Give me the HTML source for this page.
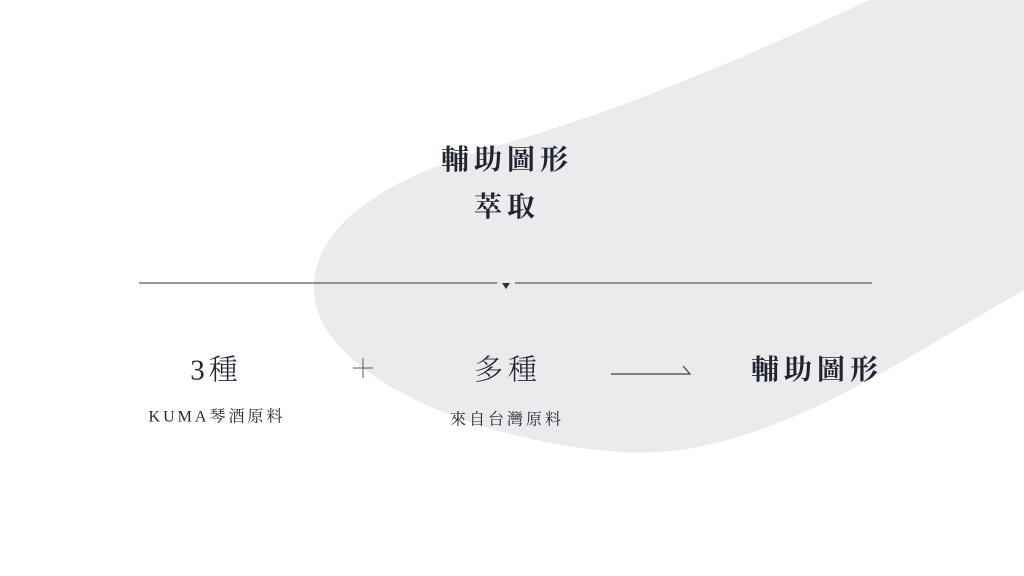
<!DOCTYPE html>
<html><head><meta charset="utf-8"><style>
body{margin:0;width:1024px;height:576px;background:#fff;position:relative;overflow:hidden;font-family:"Liberation Serif","Noto Serif CJK SC",serif;color:#1f2433}
.t{position:absolute;transform:translate(-50%,-50%);white-space:nowrap}
</style></head><body>
<svg width="1024" height="576" style="position:absolute;left:0;top:0">
<path d="M870,0 C770,45 640,105 500,145 C370,182 305,235 315,300 C325,370 460,440 620,452 C760,462 900,360 1024,290 L1024,0 Z" fill="#ebebee"/>
<line x1="139" y1="283" x2="497" y2="283" stroke="#555a66" stroke-width="1.3"/>
<line x1="515" y1="283" x2="872" y2="283" stroke="#555a66" stroke-width="1.3"/>
<polygon points="502,283 510,283 506,289" fill="#2a2f3b"/>
<polyline points="611,374 690,374 683,366" fill="none" stroke="#3a3f4b" stroke-width="1.2"/>
<line x1="363" y1="358" x2="363" y2="378" stroke="#555a66" stroke-width="1"/>
<line x1="353" y1="368" x2="373" y2="368" stroke="#555a66" stroke-width="1"/>
</svg>
<div class="t" style="left:507px;top:158px;font-size:28px;font-weight:bold;letter-spacing:5px">輔助圖形</div>
<div class="t" style="left:507px;top:205px;font-size:28px;font-weight:bold;letter-spacing:5px">萃取</div>
<div class="t" style="left:216px;top:368px;font-size:29px;font-weight:300;letter-spacing:4px">3種</div>
<div class="t" style="left:508px;top:368px;font-size:29px;font-weight:300;letter-spacing:5px">多種</div>
<div class="t" style="left:817px;top:368px;font-size:28px;font-weight:bold;letter-spacing:5px">輔助圖形</div>
<div class="t" style="left:217px;top:415px;font-size:16px;letter-spacing:3px">KUMA琴酒原料</div>
<div class="t" style="left:507px;top:418px;font-size:16px;letter-spacing:3px">來自台灣原料</div>
</body></html>
